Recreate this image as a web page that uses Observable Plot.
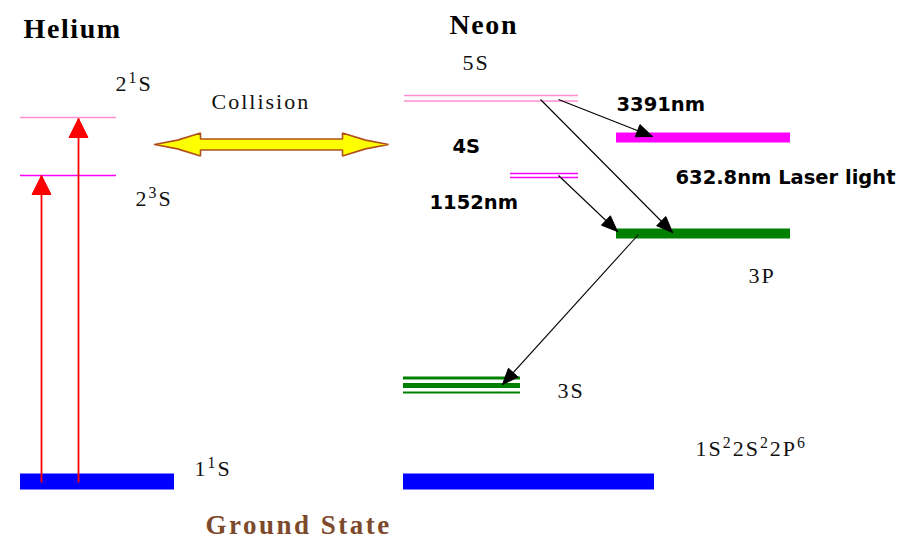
<!DOCTYPE html>
<html>
<head>
<meta charset="utf-8">
<script src="https://cdn.jsdelivr.net/npm/d3@7"></script>
<script src="https://cdn.jsdelivr.net/npm/@observablehq/plot@0.6"></script>
<style>
  html, body { margin: 0; padding: 0; background: #ffffff; }
  #chart svg { display: block; }
</style>
</head>
<body>
<div id="chart"></div>
<script>
// ---------- DATA (diagram units: x across, energy E above ground) ----------
// Energy levels
const levelNames  = ["He 2¹S", "He 2³S", "He 1¹S", "Ne 5S a", "Ne 5S b", "Ne 4S a", "Ne 4S b", "Ne 4P", "Ne 3P", "Ne 3S a", "Ne 3S b", "Ne 3S c", "Ne ground"];
const levelEnergy = [364, 306, 0, 386, 380.5, 308, 304, 344, 248, 103.5, 96, 89, 0];
const levelFrom   = [20, 20, 20, 404, 404, 510, 510, 616, 616, 403, 403, 403, 403];
const levelTo     = [116, 116, 174, 578, 578, 578, 578, 790, 790, 520, 520, 520, 654];

// Transitions (arrows)
const transNames = ["He pump 2³S", "He pump 2¹S", "3391nm", "632.8nm", "1152nm", "3P→3S"];
const transX1 = [41, 78, 558, 540, 558, 638];
const transE1 = [-1, -1, 382, 382, 306, 247];
const transX2 = [41, 78, 652, 672, 617, 502];
const transE2 = [306, 363, 345, 249, 250, 97];

// Collision double arrow
const collisionFrom = 154, collisionTo = 388, collisionEnergy = 337;

// Labels
const serifText = ["2¹S", "Collision", "2³S", "1¹S", "5S", "3P", "3S", "1S²2S²2P⁶"];
const serifX    = [115, 211, 135, 194, 462, 748, 557, 695];
const serifE    = [391, 373, 276, 6, 412, 199, 84, 26];
const boldText  = ["3391nm", "4S", "632.8nm Laser light", "1152nm"];
const boldX     = [616, 452, 675, 429];
const boldE     = [371, 329, 298, 273];
const titleText = ["Helium", "Neon"];
const titleX    = [23, 449];
const titleE    = [444, 448];
const footText  = ["Ground State"];
const footX     = [205];
const footE     = [-52];

// ---------- STYLES ----------
const PINK = "#ff8fcf", MAG = "#ff00ff", GREEN = "#008000", BLUE = "#0000ff";
const levelStyle = {
  "He 2¹S": [PINK, 1.5], "He 2³S": [MAG, 1.5], "He 1¹S": [BLUE, 16],
  "Ne 5S a": [PINK, 1.5], "Ne 5S b": [PINK, 1.5],
  "Ne 4S a": [MAG, 1.5], "Ne 4S b": [MAG, 1.5],
  "Ne 4P": [MAG, 10], "Ne 3P": [GREEN, 10],
  "Ne 3S a": [GREEN, 3], "Ne 3S b": [GREEN, 5], "Ne 3S c": [GREEN, 2],
  "Ne ground": [BLUE, 16]
};
const transStyle = {
  "He pump 2³S": ["#ff0000", 1.8, 19, 19],
  "He pump 2¹S": ["#ff0000", 1.8, 19, 19],
  "3391nm": ["#000000", 1.1, 16, 13],
  "632.8nm": ["#000000", 1.1, 16, 13],
  "1152nm": ["#000000", 1.1, 16, 13],
  "3P→3S": ["#000000", 1.1, 16, 13]
};

// ---------- GEOMETRY HELPERS (1 diagram unit = 1 px) ----------
const tIdx = d3.range(transNames.length);
const heads = tIdx.flatMap(i => {
  const [color, , L, Wd] = transStyle[transNames[i]];
  const x1 = transX1[i], y1 = transE1[i], x2 = transX2[i], y2 = transE2[i];
  const len = Math.hypot(x2 - x1, y2 - y1);
  const ux = (x2 - x1) / len, uy = (y2 - y1) / len;
  const nx = -uy, ny = ux;
  const bx = x2 - ux * L, by = y2 - uy * L;
  return [
    {x: x2, y: y2, k: i, c: color},
    {x: bx + nx * Wd / 2, y: by + ny * Wd / 2, k: i, c: color},
    {x: bx - nx * Wd / 2, y: by - ny * Wd / 2, k: i, c: color},
    {x: x2, y: y2, k: i, c: color}
  ];
});

function doubleArrow(a, b, e, headL, headH, shaftH) {
  const pts = [
    [a, e],
    [a + headL / 2, e + headH * 0.38],
    [a + headL, e + headH],
    [a + headL, e + shaftH],
    [b - headL, e + shaftH],
    [b - headL, e + headH],
    [b - headL / 2, e + headH * 0.38],
    [b, e],
    [b - headL / 2, e - headH * 0.38],
    [b - headL, e - headH],
    [b - headL, e - shaftH],
    [a + headL, e - shaftH],
    [a + headL, e - headH],
    [a + headL / 2, e - headH * 0.38],
    [a, e]
  ];
  return pts.map(([x, y]) => ({x, y}));
}
const collision = doubleArrow(collisionFrom, collisionTo, collisionEnergy, 46, 11.5, 5.5);

const lIdx = d3.range(levelNames.length);
const SERIF_SIZE = 22;

const chart = Plot.plot({
  width: 912,
  height: 539,
  margin: 0,
  x: {domain: [0, 912], axis: null},
  y: {domain: [-58, 481], axis: null},
  color: {type: "identity"},
  style: {background: "#ffffff"},
  marks: [
    Plot.ruleY(lIdx, {
      y: i => levelEnergy[i],
      x1: i => levelFrom[i],
      x2: i => levelTo[i],
      stroke: i => levelStyle[levelNames[i]][0],
      strokeWidth: i => levelStyle[levelNames[i]][1]
    }),
    Plot.link(tIdx, {
      x1: i => transX1[i], y1: i => transE1[i],
      x2: i => transX2[i], y2: i => transE2[i],
      stroke: i => transStyle[transNames[i]][0],
      strokeWidth: i => transStyle[transNames[i]][1]
    }),
    Plot.line(heads, {x: "x", y: "y", z: "k", fill: "c", stroke: "c", strokeWidth: 1, curve: "linear"}),
    Plot.line(collision, {x: "x", y: "y", fill: "#ffff00", stroke: "#b0501c", strokeWidth: 1.6, strokeLinejoin: "miter"}),
    Plot.text(d3.range(serifText.length), {
      x: i => serifX[i], y: i => serifE[i], text: i => serifText[i],
      textAnchor: "start", lineAnchor: "bottom",
      fontFamily: "Liberation Serif", fontSize: SERIF_SIZE, fill: "#111"
    }),
    Plot.text(d3.range(boldText.length), {
      x: i => boldX[i], y: i => boldE[i], text: i => boldText[i],
      textAnchor: "start", lineAnchor: "bottom",
      fontFamily: "DejaVu Sans", fontWeight: "bold", fontSize: 19.5, fill: "#000"
    }),
    Plot.text(d3.range(titleText.length), {
      x: i => titleX[i], y: i => titleE[i], text: i => titleText[i],
      textAnchor: "start", lineAnchor: "bottom",
      fontFamily: "Liberation Serif", fontWeight: "bold", fontSize: 28, fill: "#000"
    }),
    Plot.text(d3.range(footText.length), {
      x: i => footX[i], y: i => footE[i], text: i => footText[i],
      textAnchor: "start", lineAnchor: "bottom",
      fontFamily: "Liberation Serif", fontWeight: "bold", fontSize: 27, fill: "#7e4a2c"
    })
  ]
});

// letter spacing per label group, and real superscripts for term symbols
const supMap = {"¹": "1", "²": "2", "³": "3", "⁶": "6"};
d3.select(chart).selectAll("text").each(function () {
  const t = this.textContent;
  const el = d3.select(this);
  if (serifText.includes(t)) el.style("letter-spacing", "2px");
  else if (titleText.includes(t)) el.style("letter-spacing", "1.6px");
  else if (footText.includes(t)) el.style("letter-spacing", "2.5px");
  if (serifText.includes(t) && /[¹²³⁶]/.test(t)) {
    el.text(null);
    const shift = SERIF_SIZE * 0.36;
    let raised = false;
    for (const ch of t) {
      const isSup = ch in supMap;
      const span = el.append("tspan").text(isSup ? supMap[ch] : ch);
      if (isSup) {
        span.attr("font-size", SERIF_SIZE * 0.72);
        if (!raised) { span.attr("dy", -shift); raised = true; }
      } else if (raised) {
        span.attr("dy", shift); raised = false;
      }
    }
  }
});

document.getElementById("chart").appendChild(chart);
</script>
</body>
</html>
